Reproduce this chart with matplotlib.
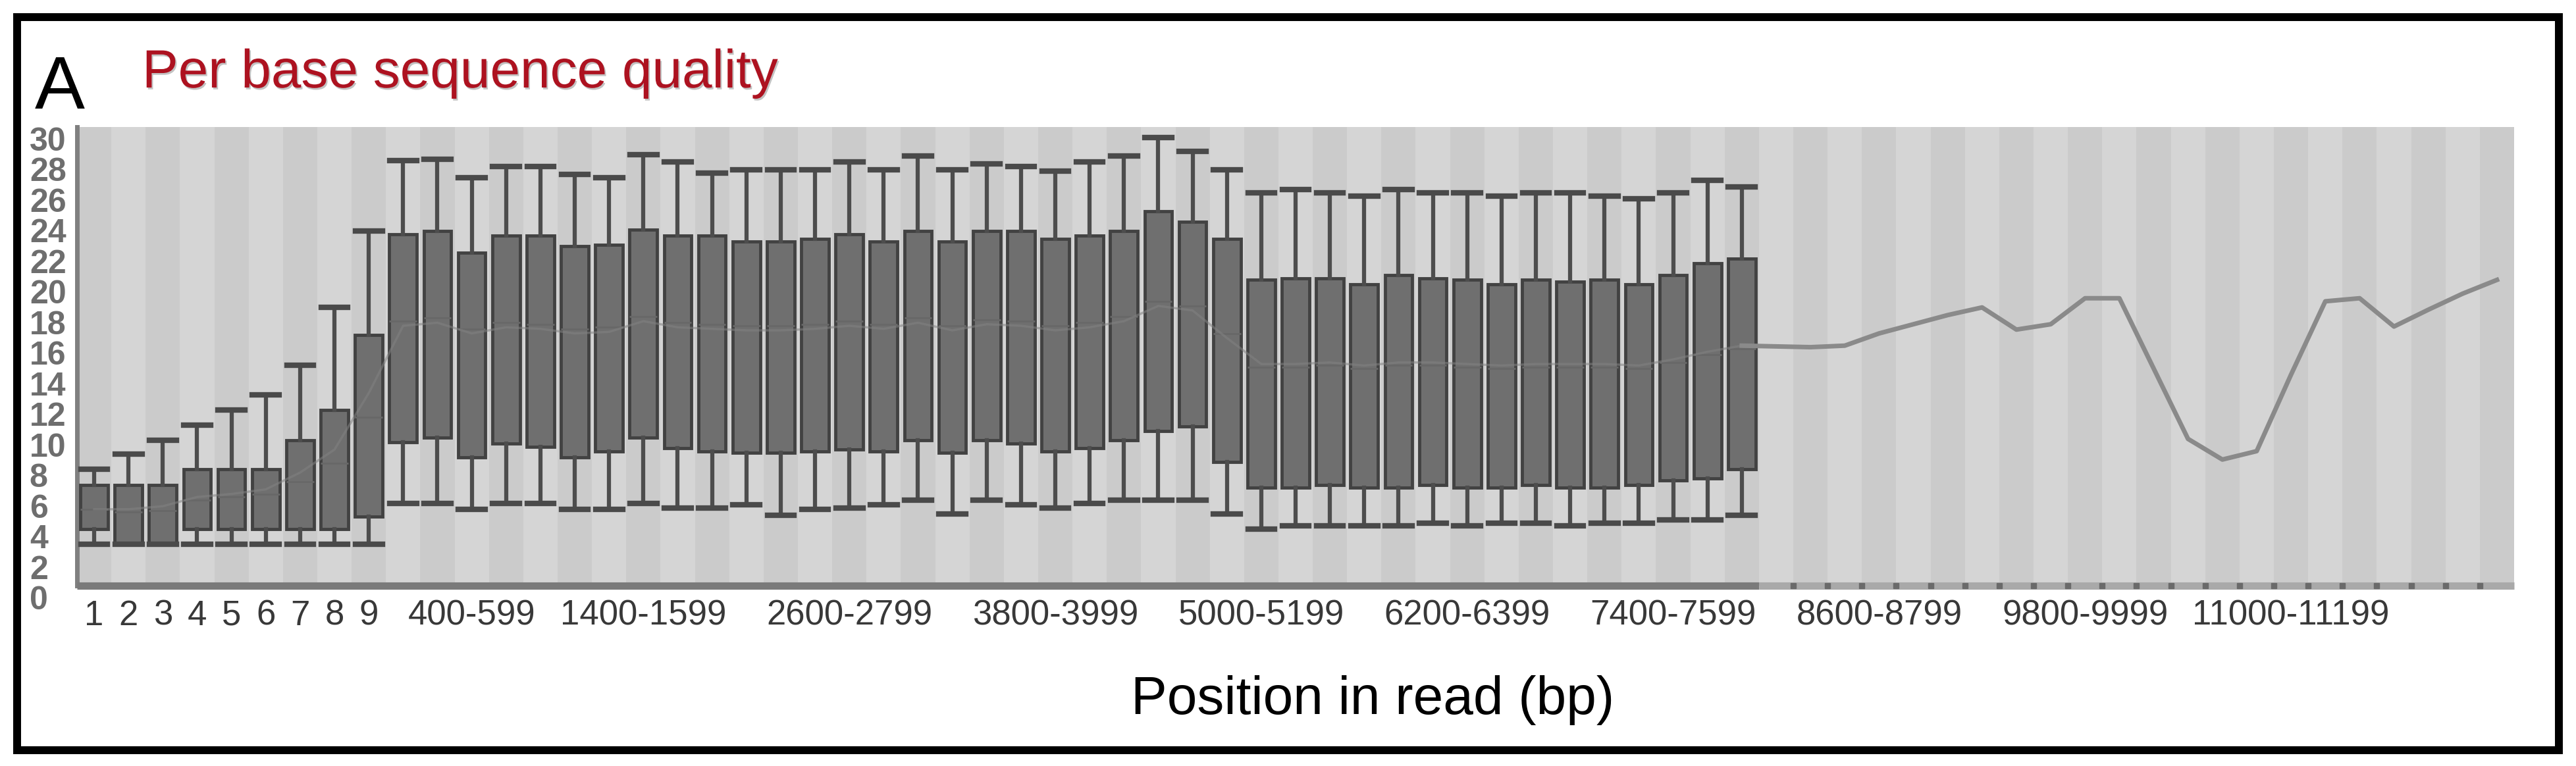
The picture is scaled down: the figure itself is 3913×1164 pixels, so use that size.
"""
Per base sequence quality (FastQC style, greyscale) for long reads.
Boxes for the first 49 bins, only the mean line after that.
"""

import matplotlib

matplotlib.use("Agg")
import matplotlib.patheffects as pe  # noqa: E402
import matplotlib.pyplot as plt  # noqa: E402
from matplotlib.patches import Rectangle  # noqa: E402

plt.rcParams["font.family"] = ["Liberation Sans", "DejaVu Sans"]

# read position bins (1-9 single bases, then 200 bp groups)
bins = list(range(1, 72))

tick_pos = [1, 2, 3, 4, 5, 6, 7, 8, 9, 12, 17, 23, 29, 35, 41, 47, 53, 59, 65]
tick_labels = ["1", "2", "3", "4", "5", "6", "7", "8", "9",
               "400-599", "1400-1599", "2600-2799", "3800-3999", "5000-5199",
               "6200-6399", "7400-7599", "8600-8799", "9800-9999", "11000-11199"]

y_ticks = [0, 2, 4, 6, 8, 10, 12, 14, 16, 18, 20, 22, 24, 26, 28, 30]

# box statistics for bins 1-49
whis_lo = [2.7, 2.7, 2.7, 2.7, 2.7, 2.7, 2.7, 2.7, 2.7,
           5.4, 5.4, 5.0, 5.4, 5.4, 5.0, 5.0, 5.4, 5.1, 5.1, 5.3,
           4.6, 5.0, 5.1, 5.3, 5.6, 4.7, 5.6, 5.3, 5.1, 5.4,
           5.6, 5.6, 5.6, 4.7, 3.7, 3.9, 3.9, 3.9, 3.9, 4.1,
           3.9, 4.1, 4.1, 3.9, 4.1, 4.1, 4.3, 4.3, 4.6]
q1 = [3.7, 2.7, 2.7, 3.7, 3.7, 3.7, 3.7, 3.7, 4.5,
      9.4, 9.7, 8.4, 9.3, 9.1, 8.4, 8.8, 9.7, 9.0, 8.8, 8.7,
      8.7, 8.8, 8.9, 8.8, 9.5, 8.7, 9.5, 9.3, 8.8, 9.0,
      9.5, 10.1, 10.4, 8.1, 6.4, 6.4, 6.6, 6.4, 6.4, 6.6,
      6.4, 6.4, 6.6, 6.4, 6.4, 6.6, 6.9, 7.0, 7.6]
median = [5.0, 4.8, 4.9, 5.6, 5.8, 6.0, 6.8, 8.0, 11.0,
          17.3, 17.5, 16.8, 17.2, 17.1, 16.8, 16.9, 17.6, 17.2, 17.1, 17.0,
          17.0, 17.1, 17.3, 17.1, 17.5, 17.0, 17.4, 17.3, 17.0, 17.2,
          17.6, 18.6, 18.3, 16.5, 14.3, 14.3, 14.4, 14.2, 14.4, 14.4,
          14.3, 14.2, 14.3, 14.3, 14.3, 14.2, 14.6, 15.1, 15.5]
q3 = [6.6, 6.6, 6.6, 7.6, 7.6, 7.6, 9.5, 11.5, 16.4,
      23.0, 23.2, 21.8, 22.9, 22.9, 22.2, 22.3, 23.3, 22.9, 22.9, 22.5,
      22.5, 22.7, 23.0, 22.5, 23.2, 22.5, 23.2, 23.2, 22.7, 22.9,
      23.2, 24.5, 23.8, 22.7, 20.0, 20.1, 20.1, 19.7, 20.3, 20.1,
      20.0, 19.7, 20.0, 19.9, 20.0, 19.7, 20.3, 21.1, 21.4]
whis_hi = [7.6, 8.6, 9.5, 10.5, 11.5, 12.5, 14.4, 18.2, 23.2,
           27.8, 27.9, 26.7, 27.4, 27.4, 26.9, 26.7, 28.2, 27.7, 27.0, 27.2,
           27.2, 27.2, 27.7, 27.2, 28.1, 27.2, 27.6, 27.4, 27.1, 27.7,
           28.1, 29.3, 28.4, 27.2, 25.7, 25.9, 25.7, 25.5, 25.9, 25.7,
           25.7, 25.5, 25.7, 25.7, 25.5, 25.3, 25.7, 26.5, 26.1]

# mean quality for every bin (1-71)
mean_q = [5.0, 5.0, 5.2, 5.8, 6.0, 6.3, 7.4, 8.9, 12.6,
          17.0, 17.2, 16.5, 16.9, 16.8, 16.5, 16.6, 17.3, 16.9, 16.8, 16.7,
          16.7, 16.8, 17.0, 16.8, 17.2, 16.7, 17.1, 17.0, 16.7, 16.9,
          17.3, 18.3, 18.0, 16.2, 14.5, 14.5, 14.6, 14.4, 14.6, 14.6,
          14.5, 14.4, 14.5, 14.5, 14.5, 14.4, 14.8, 15.3, 15.7,
          15.65, 15.6, 15.7, 16.5, 17.1, 17.7, 18.2, 16.75, 17.1, 18.8, 18.8,
          14.2, 9.6, 8.25, 8.8, 13.8, 18.6, 18.8, 16.95, 18.05, 19.1, 20.0]

DPI = 100
fig = plt.figure(figsize=(39.13, 11.64), dpi=DPI)
fig.patch.set_facecolor("white")
ax = fig.add_axes([117 / 3913, 1 - 890 / 1164, 3702 / 3913, 697 / 1164])

# alternating column shading
for b in bins:
    ax.axvspan(b - 0.5, b + 0.5, color="#cbcbcb" if b % 2 else "#d5d5d5",
               linewidth=0, zorder=0)

n_box = len(q1)
stats = [
    dict(whislo=a, q1=b, med=c, q3=d, whishi=e)
    for a, b, c, d, e in zip(whis_lo, q1, median, q3, whis_hi)
]
ax.bxp(
    stats,
    positions=bins[:n_box],
    widths=0.8,
    capwidths=0.78,
    showfliers=False,
    patch_artist=True,
    boxprops=dict(facecolor="#6f6f6f", edgecolor="#424242", linewidth=3.5),
    whiskerprops=dict(color="#4d4d4d", linewidth=4.5),
    capprops=dict(color="#4a4a4a", linewidth=6),
    medianprops=dict(color="#686868", linewidth=2),
    zorder=3,
)

# mean line: faint through the boxes, plain after them
ax.plot(bins[:n_box], mean_q[:n_box], color="#828282", linewidth=2.5,
        alpha=0.55, zorder=4)
ax.plot(bins[n_box - 1:], mean_q[n_box - 1:], color="#8a8a8a", linewidth=5,
        zorder=4, solid_joinstyle="round")

ax.set_xlim(0.5, len(bins) + 0.5)
ax.set_ylim(0, 30)

for side in ["top", "right", "bottom"]:
    ax.spines[side].set_visible(False)
ax.spines["left"].set_color("#808080")
ax.spines["left"].set_linewidth(5)

# x axis: solid under the boxes, lighter with marks after
ax.hlines(0, 0.5, n_box + 0.5, color="#7a7a7a", linewidth=8, clip_on=False, zorder=5)
ax.hlines(0, n_box + 0.5, len(bins) + 0.5, color="#a9a9a9", linewidth=8,
          clip_on=False, zorder=5)
edges = [b + 0.5 for b in bins[n_box:len(bins) - 1]]
ax.plot(edges, [0] * len(edges), linestyle="none", marker="s", markersize=6,
        color="#6a6a6a", clip_on=False, zorder=6)

ax.set_xticks(tick_pos, tick_labels)
ax.tick_params(axis="x", length=0, pad=15, labelsize=38, labelcolor="#383838")

ax.set_yticks(y_ticks, [str(v) for v in y_ticks])
ax.tick_params(axis="y", length=0, pad=52, labelsize=36, labelcolor="#6e6e6e")
for lbl in ax.get_yticklabels():
    lbl.set_horizontalalignment("left")
    lbl.set_verticalalignment("top")
    lbl.set_fontweight("bold")

# panel letter, title and axis caption
fig.text(53 / 3913, 1 - 165 / 1164, "A", fontsize=82, color="black",
         ha="left", va="baseline")
fig.text(216 / 3913, 1 - 133 / 1164, "Per base sequence quality", fontsize=59,
         color="#ad1220", ha="left", va="baseline",
         path_effects=[pe.withSimplePatchShadow(offset=(1.5, -2),
                                                shadow_rgbFace="#555555",
                                                alpha=0.35)])
fig.text(2085 / 3913, 1 - 1085 / 1164, "Position in read (bp)", fontsize=59,
         color="black", ha="center", va="baseline")

# outer frame
fig.patches.append(Rectangle((26 / 3913, 1 - 1140 / 1164), 3861 / 3913, 1114 / 1164,
                             transform=fig.transFigure, fill=False,
                             edgecolor="black", linewidth=8.6))

fig.savefig("out.png", dpi=DPI)
plt.close(fig)
